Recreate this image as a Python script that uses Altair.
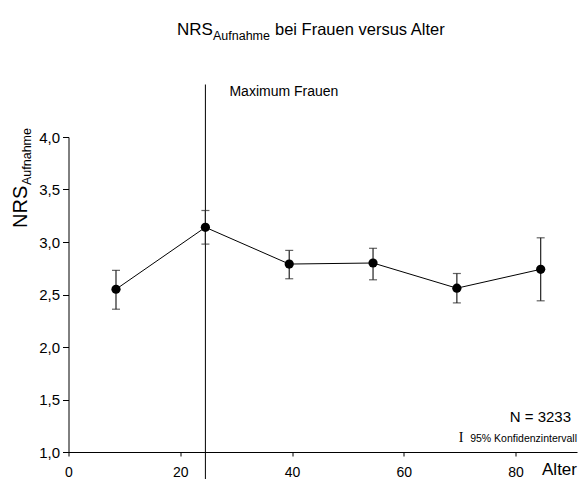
import altair as alt
import pandas as pd

# Age-group midpoints and NRS at admission (women), with 95% confidence limits
ages = [8.5, 24.5, 39.5, 54.5, 69.5, 84.5]
means = [2.55, 3.14, 2.79, 2.80, 2.56, 2.74]
lower = [2.36, 2.98, 2.65, 2.64, 2.42, 2.44]
upper = [2.73, 3.30, 2.92, 2.94, 2.70, 3.04]

# Marker for the age group with the maximum
max_age = [24.5]
max_top = [4.5]
max_bottom = [0.74]
max_label = ["Maximum Frauen"]

x_ticks = [0, 20, 40, 60, 80]
y_ticks = [1.0, 1.5, 2.0, 2.5, 3.0, 3.5, 4.0]

FONT = "Liberation Sans"

df = pd.DataFrame({"alter": ages, "nrs": means, "lo": lower, "hi": upper})
mx = pd.DataFrame({"alter": max_age, "top": max_top, "bottom": max_bottom,
                   "label": max_label, "ly": [4.39], "lx": [28.8]})

x_scale = alt.Scale(domain=[0, 91], nice=False, zero=False)
y_scale = alt.Scale(domain=[1.0, 4.0], nice=False, zero=False)

x_axis = alt.Axis(values=x_ticks, title=None, grid=False, tickSize=4,
                  labelPadding=9, labelFontSize=14, labelFont=FONT,
                  domainColor="black", tickColor="black", labelColor="black",
                  labelFlush=False)
y_axis = alt.Axis(values=y_ticks, title=None, grid=False, tickSize=6,
                  labelPadding=3, labelFontSize=15, labelFont=FONT,
                  labelExpr="replace(format(datum.value, '.1f'), '.', ',')",
                  domainColor="black", tickColor="black", labelColor="black")

base = alt.Chart(df)

line = base.mark_line(color="black", strokeWidth=1).encode(
    x=alt.X("alter:Q", scale=x_scale, axis=x_axis),
    y=alt.Y("nrs:Q", scale=y_scale, axis=y_axis),
)

err = base.mark_rule(color="#222222", strokeWidth=1.2).encode(
    x="alter:Q", y="lo:Q", y2="hi:Q"
)
cap_hi = base.mark_tick(orient="horizontal", size=8, thickness=1.2,
                        color="#222222").encode(x="alter:Q", y="hi:Q")
cap_lo = base.mark_tick(orient="horizontal", size=8, thickness=1.2,
                        color="#222222").encode(x="alter:Q", y="lo:Q")

pts = base.mark_circle(color="black", size=85, opacity=1).encode(
    x="alter:Q", y="nrs:Q"
)

vline = alt.Chart(mx).mark_rule(color="black", strokeWidth=1, clip=False).encode(
    x="alter:Q", y="top:Q", y2="bottom:Q"
)
vtext = alt.Chart(mx).mark_text(align="left", baseline="alphabetic",
                                font=FONT, fontSize=14, color="black").encode(
    x="lx:Q", y="ly:Q", text="label:N"
)


def label(text, x, y, size, align="left", angle=0, font=FONT):
    kwargs = dict(align=align, baseline="alphabetic", font=font,
                  fontSize=size, color="black", text=text)
    if angle:
        kwargs["angle"] = angle
    return alt.Chart(df).transform_filter("datum.alter == 8.5").mark_text(
        **kwargs).encode(x=alt.value(x), y=alt.value(y))


texts = [
    # chart title with subscript
    label("NRS", 108.5, -102, 17),
    label("Aufnahme", 144.5, -97, 12.5),
    label("bei Frauen versus Alter", 206.5, -102, 16.5),
    # y-axis title with subscript
    label("NRS", -42, 91, 20, angle=270),
    label("Aufnahme", -37.5, 48, 12.5, angle=270),
    # x-axis title
    label("Alter", 508.5, 338, 17, align="right"),
    # sample size and legend
    label("N = 3233", 502.5, 285, 15, align="right"),
    label("95% Konfidenzintervall", 508.5, 305, 10.5, align="right"),
    label("I", 392.5, 305, 14, align="center", font="Liberation Serif"),
]

chart = alt.layer(vline, err, cap_hi, cap_lo, line, pts, vtext, *texts).properties(
    width=508.5,
    height=315,
    autosize=alt.AutoSizeParams(type="none"),
    padding={"left": 68.5, "top": 137, "right": 2, "bottom": 27},
    background="white",
).configure_view(stroke=None)

chart.save("out.html", embed_options={"renderer": "svg", "actions": False})
